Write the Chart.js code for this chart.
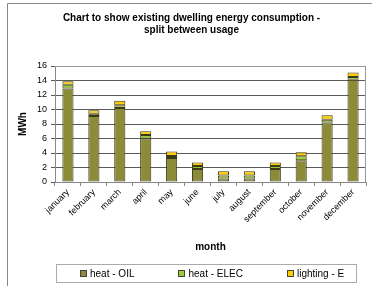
<!DOCTYPE html>
<html>
<head>
<meta charset="utf-8">
<script src="https://cdn.jsdelivr.net/npm/chart.js@4/dist/chart.umd.min.js"></script>
<style>
  html, body { margin: 0; padding: 0; background: #fff; }
  #wrap { position: relative; width: 372px; height: 286px; font-family: 'Liberation Sans', Arial, sans-serif; }
  #c { position: absolute; left: 0; top: 0; }
  #legend {
    position: absolute; left: 56px; top: 264px; width: 301px; height: 19px;
    border: 1px solid #aaa; box-sizing: border-box;
    display: flex; align-items: center; padding-left: 23px; gap: 44px;
    font-size: 10px; color: #000;
  }
  #legend .item { display: flex; align-items: center; white-space: nowrap; }
  #legend .box { width: 5px; height: 5px; border: 1px solid #444; margin-right: 3px; }
</style>
</head>
<body>
<div id="wrap">
  <canvas id="c" width="372" height="286"></canvas>
  <div id="legend"></div>
</div>
<script>
// monthly energy use, MWh
const months = ['january', 'february', 'march', 'april', 'may', 'june',
  'july', 'august', 'september', 'october', 'november', 'december'];
const heatOil = [12.9, 9.1, 10.2, 6.0, 3.3, 1.8, 0.5, 0.5, 1.8, 3.0, 8.2, 14.1];
const heatElec = [0.5, 0.3, 0.4, 0.5, 0.3, 0.4, 0.4, 0.4, 0.4, 0.55, 0.4, 0.4];
const lighting = [0.5, 0.5, 0.6, 0.5, 0.6, 0.5, 0.6, 0.6, 0.5, 0.55, 0.6, 0.6];
const yTicks = [0, 2, 4, 6, 8, 10, 12, 14, 16];

const FONT = 'Liberation Sans, Arial, sans-serif';

// outer frame and plot border
const framePlugin = {
  id: 'frame',
  afterDraw(chart) {
    const ctx = chart.ctx;
    const a = chart.chartArea;
    ctx.save();
    ctx.strokeStyle = '#888';
    ctx.lineWidth = 1;
    ctx.beginPath();
    ctx.moveTo(7.5, 286);
    ctx.lineTo(7.5, 3.5);
    ctx.lineTo(372, 3.5);
    ctx.stroke();
    ctx.strokeStyle = '#999';
    ctx.beginPath();
    ctx.moveTo(a.left, a.top + 0.5);
    ctx.lineTo(a.right - 0.5, a.top + 0.5);
    ctx.lineTo(a.right - 0.5, a.bottom);
    ctx.stroke();
    ctx.restore();
  }
};

const chart = new Chart(document.getElementById('c'), {
  type: 'bar',
  data: {
    labels: months,
    datasets: [
      { label: 'heat - OIL', data: heatOil, backgroundColor: '#8c8c38' },
      { label: 'heat - ELEC', data: heatElec, backgroundColor: '#9acd32' },
      { label: 'lighting - E', data: lighting, backgroundColor: '#ffcc00' }
    ].map(d => Object.assign(d, {
      borderColor: '#3a3a1a', borderWidth: 1, borderSkipped: false,
      barPercentage: 0.86, categoryPercentage: 0.5
    }))
  },
  options: {
    responsive: false,
    animation: false,
    layout: { padding: { left: 17, right: 6, top: 12, bottom: 24 } },
    plugins: {
      title: {
        display: true,
        text: ['Chart to show existing dwelling energy consumption -', 'split between usage'],
        font: { family: FONT, size: 10, weight: 'bold' },
        color: '#000',
        lineHeight: 1.35,
        padding: { top: 0, bottom: 30 }
      },
      legend: { display: false },
      tooltip: { enabled: false }
    },
    scales: {
      x: {
        stacked: true,
        afterFit(scale) { scale.height = 80; },
        grid: { display: true, drawOnChartArea: false, color: '#888', tickLength: 4, offset: true },
        border: { color: '#888' },
        ticks: {
          font: { family: FONT, size: 9 },
          color: '#000',
          maxRotation: 45,
          minRotation: 45,
          autoSkip: false,
          padding: 1
        },
        title: {
          display: true,
          text: 'month',
          font: { family: FONT, size: 10, weight: 'bold' },
          color: '#000',
          padding: { top: 4, bottom: 9 }
        }
      },
      y: {
        stacked: true,
        min: 0,
        max: 16,
        afterBuildTicks(scale) { scale.ticks = yTicks.map(v => ({ value: v })); },
        afterFit(scale) { scale.width = 38; },
        grid: { color: '#5a5a5a', tickLength: 4 },
        border: { color: '#888' },
        ticks: {
          font: { family: FONT, size: 9 },
          color: '#000',
          padding: 4
        },
        title: {
          display: true,
          text: 'MWh',
          font: { family: FONT, size: 10, weight: 'bold' },
          color: '#000',
          padding: { top: 0, bottom: 4 }
        }
      }
    }
  },
  plugins: [framePlugin]
});

// legend below the chart, built from the datasets
const legendEl = document.getElementById('legend');
chart.data.datasets.forEach(ds => {
  const item = document.createElement('div');
  item.className = 'item';
  const box = document.createElement('span');
  box.className = 'box';
  box.style.background = ds.backgroundColor;
  item.appendChild(box);
  item.appendChild(document.createTextNode(ds.label));
  legendEl.appendChild(item);
});
</script>
</body>
</html>
